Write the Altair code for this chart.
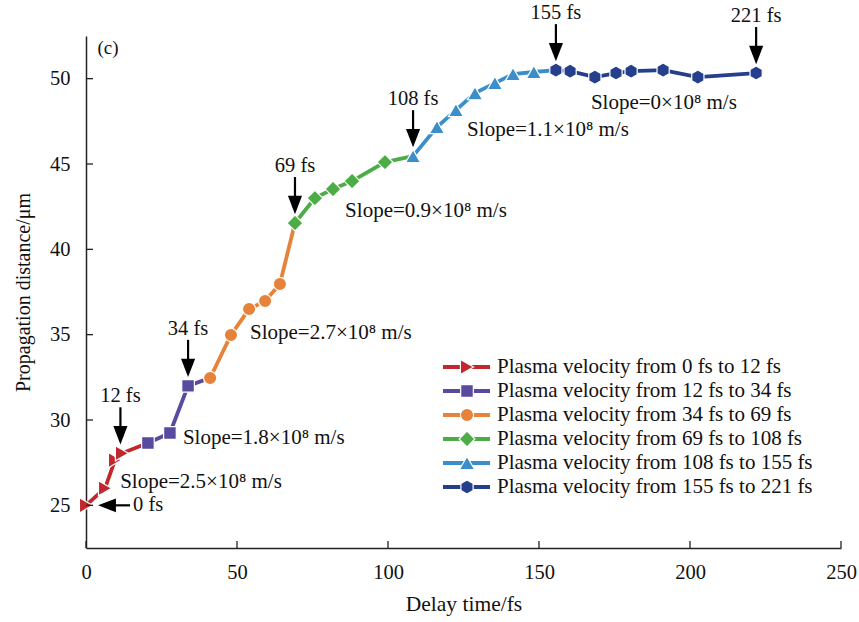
import altair as alt
import pandas as pd

FONT = "Liberation Serif"

series_names = [
    "Plasma velocity from 0 fs to 12 fs",
    "Plasma velocity from 12 fs to 34 fs",
    "Plasma velocity from 34 fs to 69 fs",
    "Plasma velocity from 69 fs to 108 fs",
    "Plasma velocity from 108 fs to 155 fs",
    "Plasma velocity from 155 fs to 221 fs",
]
series_colors = ["#c0282d", "#5a4a9f", "#e6823a", "#4cac45", "#3b8ec9", "#253f8c"]
HEX = "M0,-1.1 L0.95,-0.55 L0.95,0.55 L0,1.1 L-0.95,0.55 L-0.95,-0.55 Z"
series_shapes = ["triangle-right", "square", "circle", "diamond", "triangle-up", HEX]
series_sizes = [230, 160, 175, 250, 230, 165]

red_x = [0, 6.3, 9.6, 11.9]
red_y = [25.0, 26.0, 27.65, 28.05]
purple_x = [20.5, 27.8, 33.8]
purple_y = [28.65, 29.24, 32.0]
orange_x = [41.1, 48.0, 54.0, 59.3, 64.2]
orange_y = [32.46, 34.98, 36.5, 36.97, 37.97]
green_x = [69.2, 75.8, 81.8, 88.1, 99.0]
green_y = [41.54, 43.0, 43.53, 44.0, 45.11]
blue_x = [108.3, 116.2, 122.5, 128.8, 135.4, 141.4, 148.3]
blue_y = [45.46, 47.16, 48.16, 49.15, 49.74, 50.27, 50.39]
navy_x = [155.6, 160.3, 168.5, 175.5, 180.5, 191.1, 202.6, 221.9]
navy_y = [50.5, 50.44, 50.09, 50.33, 50.44, 50.5, 50.09, 50.33]

all_x = [red_x, purple_x, orange_x, green_x, blue_x, navy_x]
all_y = [red_y, purple_y, orange_y, green_y, blue_y, navy_y]

tick_x = [0, 50, 100, 150, 200, 250]
tick_y = [25, 30, 35, 40, 45, 50]

arrow_labels = ["12 fs", "34 fs", "69 fs", "108 fs", "155 fs", "221 fs"]
arrow_x = [11.4, 33.8, 69.2, 108.3, 155.6, 221.9]
arrow_y = [28.05, 32.0, 41.54, 45.46, 50.5, 50.33]

zero_label = ["0 fs"]
zero_x = [0.0]
zero_y = [25.0]

slope_texts = [
    "Slope=2.5×10⁸ m/s",
    "Slope=1.8×10⁸ m/s",
    "Slope=2.7×10⁸ m/s",
    "Slope=0.9×10⁸ m/s",
    "Slope=1.1×10⁸ m/s",
    "Slope=0×10⁸ m/s",
]
slope_x = [11.3, 32.1, 54.3, 85.8, 126.2, 167.2]
slope_y = [26.35, 28.95, 35.1, 42.24, 46.99, 48.57]

panel_label = ["(c)"]
panel_x = [7.3]
panel_y = [51.8]

# ---- tables ----
pt_rows, ln_rows = [], []
for i, name in enumerate(series_names):
    for j, (x, y) in enumerate(zip(all_x[i], all_y[i])):
        pt_rows.append({"series": name, "x": x, "y": y, "o": j})
        ln_rows.append({"series": name, "x": x, "y": y, "o": j})
    if i + 1 < len(series_names):
        ln_rows.append({"series": name, "x": all_x[i + 1][0], "y": all_y[i + 1][0], "o": len(all_x[i])})
pts = pd.DataFrame(pt_rows)
lns = pd.DataFrame(ln_rows)

arrows = pd.DataFrame({"label": arrow_labels, "x": arrow_x, "y": arrow_y})
zero = pd.DataFrame({"label": zero_label, "x": zero_x, "y": zero_y})
slopes = pd.DataFrame({"label": slope_texts, "x": slope_x, "y": slope_y})
panel = pd.DataFrame({"label": panel_label, "x": panel_x, "y": panel_y})
legend_df = pd.DataFrame({"series": series_names, "row": list(range(len(series_names)))})

W, H = 755, 512
xs = alt.Scale(domain=[0, 250], nice=False, zero=False)
ys = alt.Scale(domain=[22.5, 52.5], nice=False, zero=False)
cs = alt.Scale(domain=series_names, range=series_colors)

TXT = dict(font=FONT, color="#111")

X = alt.X("x:Q", scale=xs, axis=alt.Axis(values=tick_x, format="d", title="Delay time/fs",
                                         labelFont=FONT, titleFont=FONT, labelFontSize=20.5,
                                         titleFontSize=21.5, tickSize=0, labelPadding=14,
                                         titlePadding=11, labelFlush=False))
Y = alt.Y("y:Q", scale=ys, axis=alt.Axis(values=tick_y, format="d", title="Propagation distance/μm",
                                         labelFont=FONT, titleFont=FONT, labelFontSize=20.5,
                                         titleFontSize=20, tickSize=0, labelPadding=16,
                                         titlePadding=16, labelFlush=False))
C = alt.Color("series:N", scale=cs, legend=None)

lines = alt.Chart(lns).mark_line(strokeWidth=3.8).encode(
    x=X, y=Y, color=C, detail="series:N", order="o:Q")

XA = alt.X("x:Q", scale=xs)
YA = alt.Y("y:Q", scale=ys)

point_layers = []
for i, name in enumerate(series_names):
    point_layers.append(
        alt.Chart(pts[pts.series == name]).mark_point(
            filled=True, size=series_sizes[i], shape=series_shapes[i], opacity=1,
            fill=series_colors[i], stroke="white", strokeWidth=1.2).encode(x=XA, y=YA)
    )

xt = alt.Chart(pd.DataFrame({"t": tick_x})).mark_rule(color="#222", strokeWidth=1.3).encode(
    x=alt.X("t:Q", scale=xs), y=alt.value(H), y2=alt.value(H - 7))
yt = alt.Chart(pd.DataFrame({"t": tick_y})).mark_rule(color="#222", strokeWidth=1.3).encode(
    y=alt.Y("t:Q", scale=ys), x=alt.value(0), x2=alt.value(7))

ARROW_DOWN = "M-1,-1.3 L1,-1.3 L0,1.3 Z"
ARROW_LEFT = "M1.3,-1 L1.3,1 L-1.3,0 Z"

shafts = alt.Chart(arrows).mark_rule(color="black", strokeWidth=2.2, yOffset=-17, y2Offset=-46).encode(
    x=XA, y=YA, y2="y:Q")
heads = alt.Chart(arrows).mark_point(shape=ARROW_DOWN, filled=True, color="black", size=200,
                                     opacity=1, yOffset=-18).encode(x=XA, y=YA)
alabels = alt.Chart(arrows).mark_text(fontSize=20.5, baseline="middle", yOffset=-57, **TXT).encode(
    x=XA, y=YA, text="label:N")

zshaft = alt.Chart(zero).mark_rule(color="black", strokeWidth=2.2, xOffset=18, x2Offset=44).encode(
    x=XA, x2="x:Q", y=YA)
zhead = alt.Chart(zero).mark_point(shape=ARROW_LEFT, filled=True, color="black", size=190,
                                   opacity=1, xOffset=21).encode(x=XA, y=YA)
zlabel = alt.Chart(zero).mark_text(fontSize=20.5, align="left", baseline="middle", dx=47, **TXT).encode(
    x=XA, y=YA, text="label:N")

stext = alt.Chart(slopes).mark_text(fontSize=21, align="left", baseline="middle", **TXT).encode(
    x=XA, y=YA, text="label:N")
ptext = alt.Chart(panel).mark_text(fontSize=19, baseline="middle", **TXT).encode(
    x=XA, y=YA, text="label:N")

LY = alt.Y("py:Q", scale=None)
legend_layers = []
for i, name in enumerate(series_names):
    base = alt.Chart(legend_df[legend_df.series == name]).transform_calculate(py="331 + 24 * datum.row")
    legend_layers.append(base.mark_rule(strokeWidth=3.8, color=series_colors[i]).encode(
        x=alt.value(357), x2=alt.value(404), y=LY))
    legend_layers.append(base.mark_point(filled=True, size=series_sizes[i], shape=series_shapes[i],
                                         opacity=1, fill=series_colors[i], stroke="white",
                                         strokeWidth=1.2).encode(x=alt.value(381), y=LY))
leg_text = alt.Chart(legend_df).transform_calculate(py="331 + 24 * datum.row").mark_text(
    fontSize=21, align="left", baseline="middle", **TXT).encode(x=alt.value(411), y=LY, text="series:N")

chart = alt.layer(
    lines, *point_layers, xt, yt, shafts, heads, alabels, zshaft, zhead, zlabel, stext, ptext,
    *legend_layers, leg_text
).properties(
    width=W, height=H,
    autosize=alt.AutoSizeParams(type="none"),
    padding={"left": 86, "top": 36, "right": 18, "bottom": 74},
    background="white",
).configure_view(stroke=None).configure_axis(
    grid=False, labelFont=FONT, titleFont=FONT,
    labelColor="#111", titleColor="#111", titleFontWeight="normal", domainColor="#222",
    domainWidth=1.5,
)

chart.save("out.html", embed_options={"renderer": "svg", "actions": False})
